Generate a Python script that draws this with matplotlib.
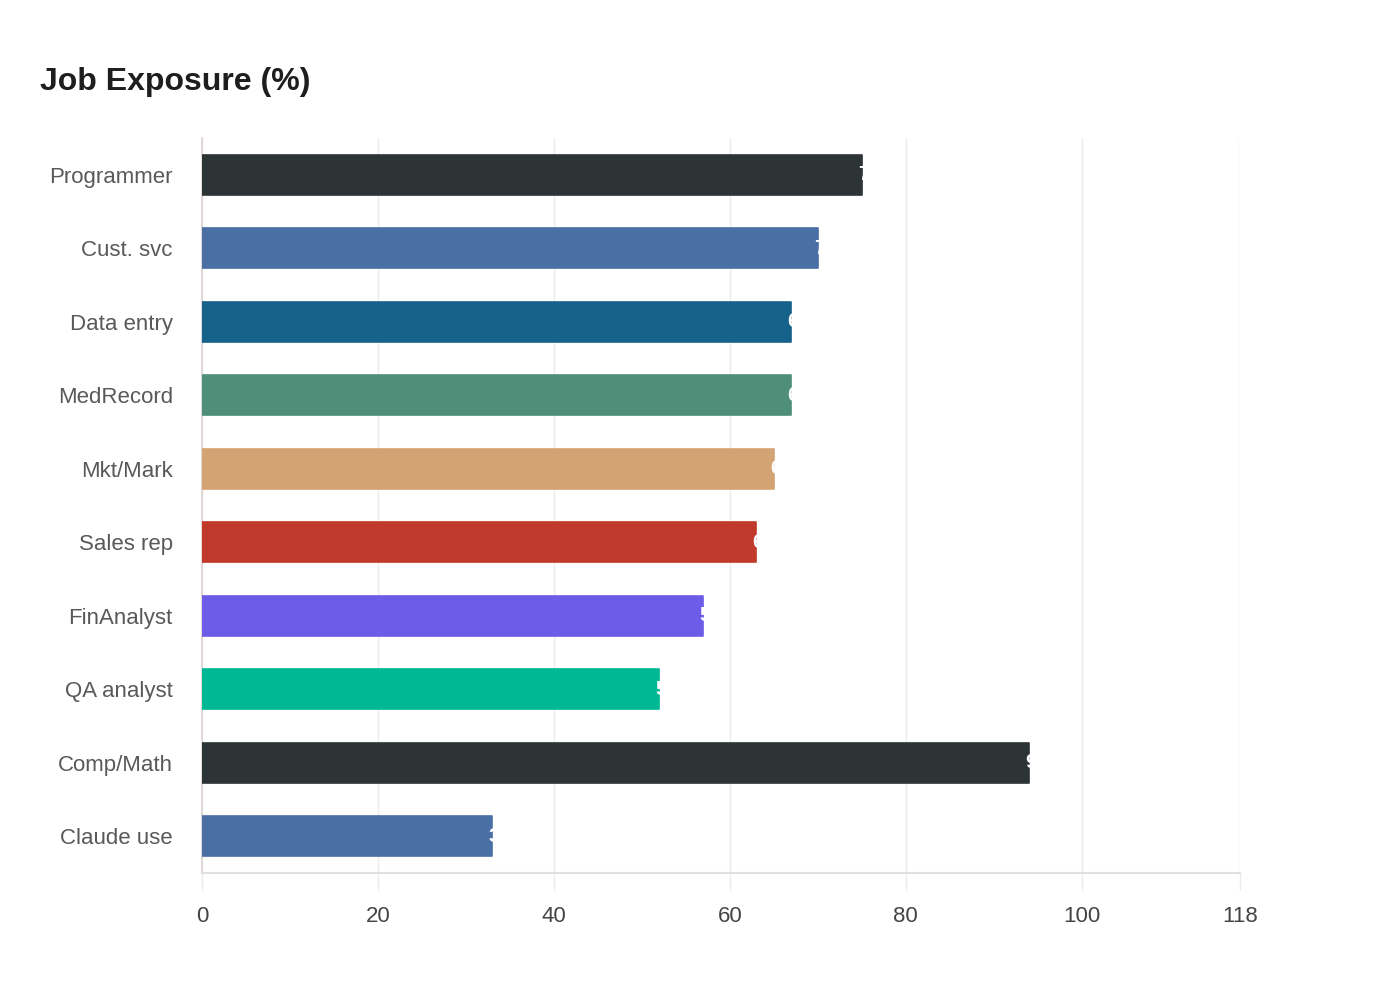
import matplotlib.pyplot as plt
import numpy as np

plt.rcParams['font.family'] = ['Liberation Sans', 'DejaVu Sans']

## data
jobs = ['Programmer', 'Cust. svc', 'Data entry', 'MedRecord', 'Mkt/Mark',
        'Sales rep', 'FinAnalyst', 'QA analyst', 'Comp/Math', 'Claude use']
exposure = [75, 70, 67, 67, 65, 63, 57, 52, 94, 33]
colors = ['#2d3436', '#4a6fa5', '#17628a', '#4f8f7a', '#d4a373',
          '#c0392b', '#6c5ce7', '#00b894', '#2d3436', '#4a6fa5']
xticks = [0, 20, 40, 60, 80, 100, 118]

fig = plt.figure(figsize=(14, 10), dpi=100)
ax = fig.add_axes([0.1443, 0.127, 0.7414, 0.735])

y = np.arange(len(jobs))
bars = ax.barh(y, exposure, height=0.545, color=colors, zorder=3)
for b, c in zip(bars, colors):
    b.set_edgecolor(c)
    b.set_linewidth(1.2)
    b.set_joinstyle('round')

# white value labels sitting at the bar end, clipped by the bar itself
for b, v in zip(bars, exposure):
    t = ax.text(v - 0.45, b.get_y() + b.get_height() / 2, str(v),
                color='white', fontsize=15, fontweight='bold',
                ha='left', va='center', zorder=4)
    t.set_clip_path(b)

ax.set_xlim(0, 118)
ax.set_ylim(len(jobs) - 0.5, -0.5)
ax.set_yticks(y)
ax.set_yticklabels(jobs)
ax.set_xticks(xticks)
ax.set_xticklabels([str(t) for t in xticks])

ax.grid(axis='x', color='#ececec', linewidth=1, zorder=0)
ax.grid(axis='y', visible=False)
ax.tick_params(axis='y', length=0, pad=21, labelsize=16, labelcolor='#595959')
ax.tick_params(axis='x', length=12, width=1, color='#ececec', pad=12,
               labelsize=16, labelcolor='#444444')

for s in ['top', 'right']:
    ax.spines[s].set_visible(False)
ax.spines['left'].set_color('#ddd2d2')
ax.spines['left'].set_linewidth(1.2)
ax.spines['bottom'].set_color('#dfdfe4')
ax.spines['bottom'].set_linewidth(1.5)

fig.text(40 / 1400, 1 - 90 / 1000, 'Job Exposure (%)', fontsize=23,
         fontweight='bold', color='#1e1e1e', ha='left', va='baseline')

plt.savefig('out.png', dpi=100)
